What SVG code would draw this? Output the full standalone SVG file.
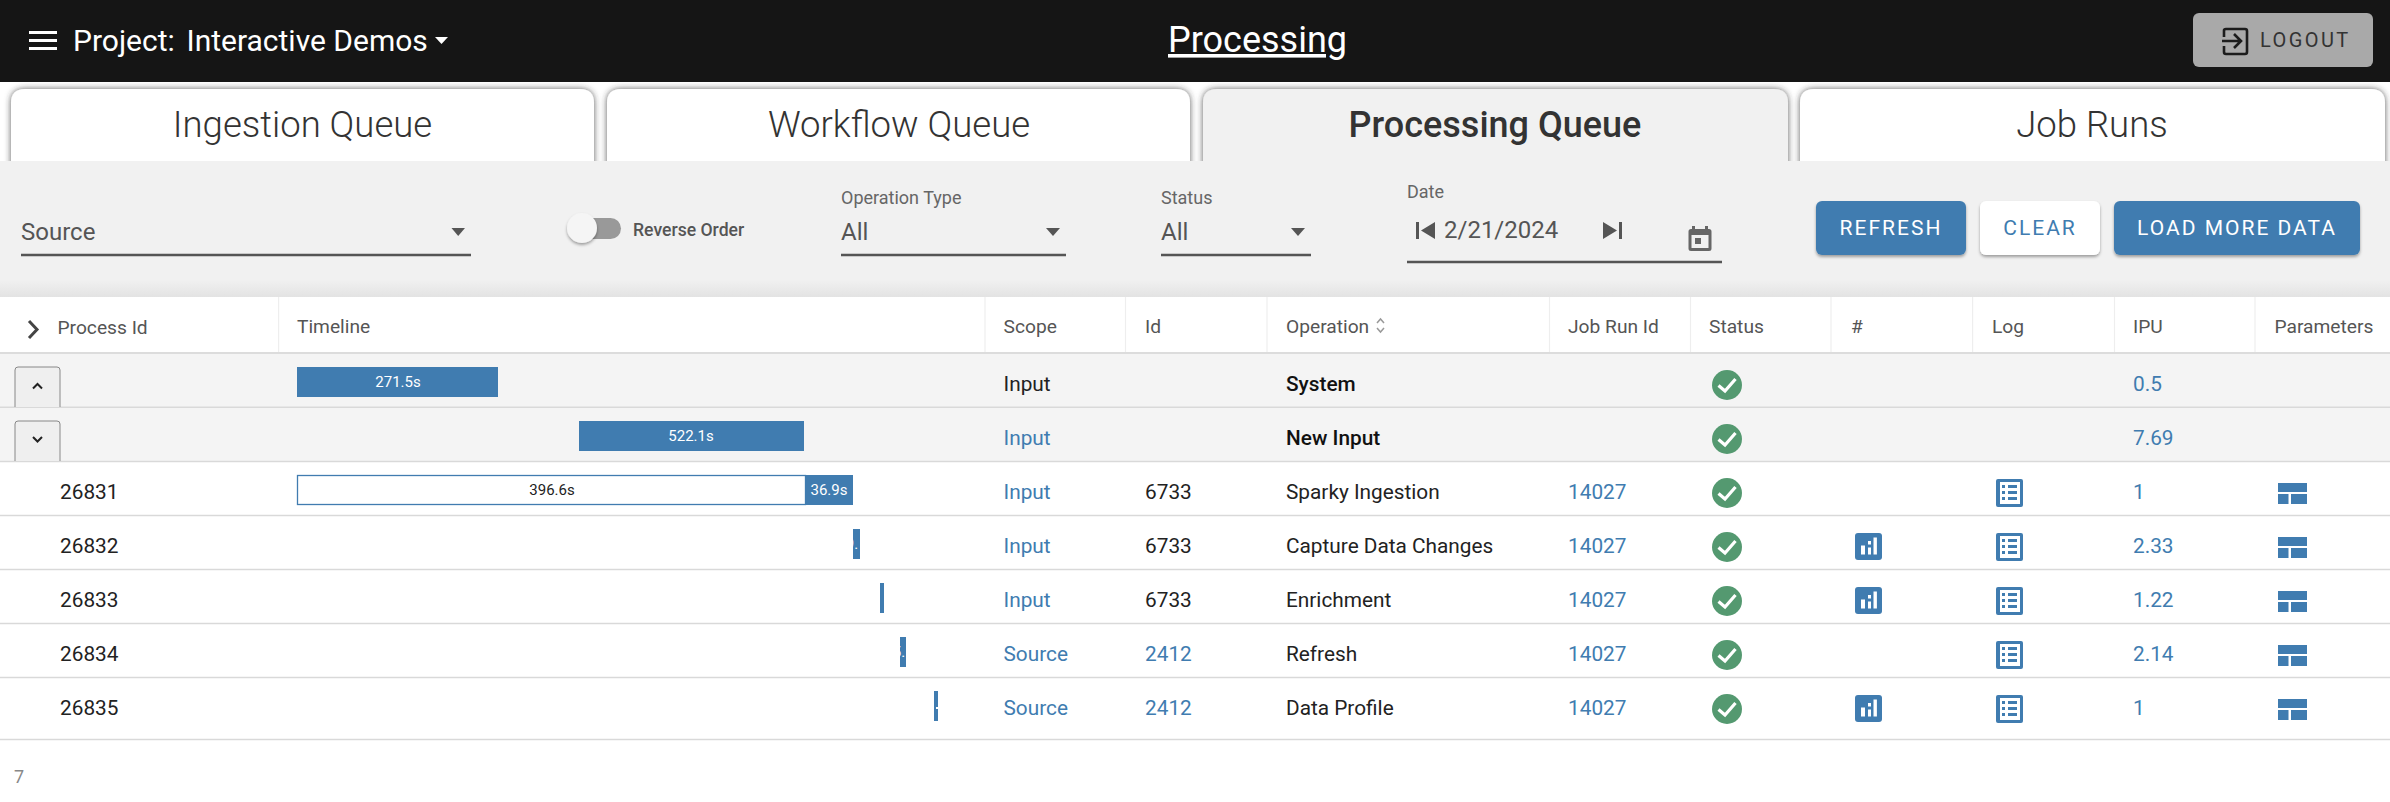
<svg xmlns="http://www.w3.org/2000/svg" xmlns:xlink="http://www.w3.org/1999/xlink" width="2390" height="802" viewBox="0 0 2390 802">
<style>
text{font-family:Roboto,"Liberation Sans",sans-serif}
.tab{font-size:36.5px;fill:#333;text-anchor:middle;font-weight:300}
.tabr{fill:#fff;filter:url(#ts)}
.lbl{font-size:18px;fill:#666}
.val{font-size:24px;fill:#555}
.ul{stroke:#555;stroke-width:2.5;fill:none}
.car{fill:#555}
.btn{filter:url(#bs)}
.bt{font-size:21px;letter-spacing:2px;text-anchor:middle}
.hd{font-size:19.2px;fill:#555}
.sep{stroke:#eee;stroke-width:1.2}
.rl{stroke:#d9d9d9;stroke-width:1.6}
.c{font-size:20.8px;fill:#222}
.l{font-size:20.8px;fill:#407cb0}
.b{font-size:20.8px;fill:#111;font-weight:500}
.blue{fill:#407cb0}
.bar{font-size:15px;fill:#fff;text-anchor:middle}
.xb{fill:#efefef;stroke:#888;stroke-width:1}
.chev{fill:none;stroke:#222;stroke-width:2}
</style>
<defs>
<filter id="ts" x="-5%" y="-20%" width="110%" height="140%"><feDropShadow dx="0" dy="0" stdDeviation="3" flood-color="#333" flood-opacity="0.8"/></filter>
<filter id="bs" x="-10%" y="-20%" width="120%" height="150%"><feDropShadow dx="0" dy="2" stdDeviation="1.5" flood-color="#000" flood-opacity="0.35"/></filter>
<linearGradient id="pg" x1="0" y1="0" x2="0" y2="1"><stop offset="0" stop-color="#f1f1f1"/><stop offset="0.87" stop-color="#f1f1f1"/><stop offset="1" stop-color="#e3e3e3"/></linearGradient>
<g id="ok"><circle r="15" fill="#549970"/><path d="M-8.500 0.500L-2 6L8.500 -6" fill="none" stroke="#fff" stroke-width="3.200"/></g>
<g id="log"><rect x="-13.500" y="-14" width="27" height="28" rx="2" class="blue"/><rect x="-9.500" y="-11" width="20" height="22" fill="#fff"/><g class="blue"><rect x="-7.500" y="-8" width="3" height="3"/><rect x="-1.500" y="-8" width="9" height="3"/><rect x="-7.500" y="-2" width="3" height="3"/><rect x="-1.500" y="-2" width="9" height="3"/><rect x="-7.500" y="4" width="3" height="3"/><rect x="-1.500" y="4" width="9" height="3"/></g></g>
<g id="chart"><rect x="-13.500" y="-13.500" width="27" height="27" rx="3" class="blue"/><g fill="#fff"><rect x="-7.500" y="-1" width="4" height="9"/><rect x="-0.500" y="-5.500" width="3" height="3.500"/><rect x="-0.500" y="1" width="3" height="7"/><rect x="5" y="-9" width="3.400" height="17"/></g></g>
<g id="par" class="blue"><rect x="0" y="0" width="29" height="9"/><rect x="0" y="11" width="10.500" height="10"/><rect x="13" y="11" width="16" height="10"/></g>
<clipPath id="c4"><rect x="853" y="529" width="7" height="30"/></clipPath>
<clipPath id="c6"><rect x="900" y="637" width="6" height="30"/></clipPath>
</defs>
<rect width="2390" height="802" fill="#fff"/>

<g id="tabs">
<path class="tabr" d="M11 170V103Q11 89 25 89H580Q594 89 594 103V170Z"/>
<path class="tabr" d="M607 170V103Q607 89 621 89H1176Q1190 89 1190 103V170Z"/>
<path class="tabr" style="fill:#f1f1f1" d="M1203 170V103Q1203 89 1217 89H1774Q1788 89 1788 103V170Z"/>
<path class="tabr" d="M1800 170V103Q1800 89 1814 89H2371Q2385 89 2385 103V170Z"/>
</g>
<g id="header">
<rect width="2390" height="82" fill="#151515"/>
<g fill="#fff"><rect x="29" y="31" width="28" height="3"/><rect x="29" y="39" width="28" height="3"/><rect x="29" y="47" width="28" height="3"/></g>
<text x="73" y="51" font-size="30" fill="#fff">Project:</text>
<text x="186.500" y="51" font-size="30" fill="#fff">Interactive Demos</text>
<path d="M435 37H448L441.500 44Z" fill="#fff"/>
<text x="1168" y="52" font-size="36" fill="#fff" text-decoration="underline">Processing</text>
<g id="logout"><rect x="2193" y="13" width="180" height="54" rx="6" fill="#a9a9a9"/>
<path d="M2224 37V30.500Q2224 29 2226 29H2245Q2247 29 2247 31V52Q2247 54 2245 54H2226Q2224 54 2224 52V46M2222 41H2241M2234 34L2241 41L2234 48" fill="none" stroke="#1c1c1c" stroke-width="2.600"/>
<text x="2260" y="47" font-size="20" letter-spacing="2.400" fill="#333">LOGOUT</text></g>
</g>
<g id="tab-labels">
<text class="tab" x="302.500" y="137">Ingestion Queue</text>
<text class="tab" x="899" y="137">Workflow Queue</text>
<text class="tab" x="1495" y="137" style="font-weight:500;font-size:36px">Processing Queue</text>
<text class="tab" x="2092" y="137">Job Runs</text>
</g>

<g id="filters">
<rect y="161" width="2390" height="136" fill="url(#pg)"/>
<text x="21" y="240" class="val">Source</text>
<path class="ul" d="M21 255H471"/><path class="car" d="M451.500 228H465L458.200 236Z"/>
<g id="toggle"><rect x="575" y="218" width="46" height="21" rx="10.500" fill="#999"/><circle cx="582" cy="228" r="15" fill="#f5f5f5" filter="url(#bs)"/></g>
<text x="633" y="236" font-size="17.600" font-weight="500" fill="#555">Reverse Order</text>
<text x="841" y="204" class="lbl">Operation Type</text><text x="841" y="240" class="val">All</text>
<path class="ul" d="M841 255H1066"/><path class="car" d="M1046 228H1060L1053 236Z"/>
<text x="1161" y="204" class="lbl">Status</text><text x="1161" y="240" class="val">All</text>
<path class="ul" d="M1161 255H1311"/><path class="car" d="M1291 228H1305L1298 236Z"/>
<text x="1407" y="198" class="lbl">Date</text>
<path class="car" d="M1416 222H1419V239H1416ZM1435 222V239L1421 230.500Z"/>
<text x="1444" y="238" class="val">2/21/2024</text>
<path class="car" d="M1603 222V239L1617 230.500ZM1619 222H1622V239H1619Z"/>
<path class="ul" d="M1407 262H1722"/>
<path fill="#666" fill-rule="evenodd" d="M1692 226H1695V229H1705V226H1708V229H1709Q1711.500 229 1711.500 231.500V248.500Q1711.500 251 1709 251H1691Q1688.500 251 1688.500 248.500V231.500Q1688.500 229 1691 229H1692ZM1691.500 235V248H1708.500V235ZM1695 238H1701V244H1695Z"/>
<rect class="btn blue" x="1816" y="201" width="150" height="54" rx="6"/><text class="bt" x="1891" y="235" fill="#fff">REFRESH</text>
<rect class="btn" x="1980" y="201" width="120" height="54" rx="6" fill="#fff"/><text class="bt" x="2040" y="235" fill="#407cb0">CLEAR</text>
<rect class="btn blue" x="2114" y="201" width="246" height="54" rx="6"/><text class="bt" x="2237" y="235" fill="#fff">LOAD MORE DATA</text>
</g>

<g id="table-header">
<g class="sep"><path d="M278.600 297V352M985 297V352M1125.500 297V352M1267 297V352M1549.500 297V352M1690.500 297V352M1831 297V352M1972.600 297V352M2114.500 297V352M2255 297V352"/></g>
<path d="M29 321L37 329.500L29 338" fill="none" stroke="#444" stroke-width="3"/>
<text class="hd" x="57.500" y="334">Process Id</text>
<text class="hd" x="297" y="333">Timeline</text>
<text class="hd" x="1003.500" y="333">Scope</text>
<text class="hd" x="1145" y="333">Id</text>
<text class="hd" x="1286" y="333">Operation</text>
<path d="M1377 323L1380.500 319L1384 323M1377 328L1380.500 332L1384 328" fill="none" stroke="#999" stroke-width="1.500"/>
<text class="hd" x="1568" y="333">Job Run Id</text>
<text class="hd" x="1709" y="333">Status</text>
<text class="hd" x="1851" y="333">#</text>
<text class="hd" x="1992" y="333">Log</text>
<text class="hd" x="2133" y="333">IPU</text>
<text class="hd" x="2274.500" y="333">Parameters</text>
<rect y="352" width="2390" height="2" fill="#dcdcdc"/>
</g>

<g id="rows">
<rect y="354" width="2390" height="107" fill="#f4f4f4"/>
<g class="rl"><path d="M0 407.300H2390M0 461.500H2390M0 515.500H2390M0 569.500H2390M0 623.500H2390M0 677.500H2390M0 739.500H2390"/></g>

<g id="row-system">
<path class="xb" d="M15 407V370Q15 367 18 367H57Q60 367 60 370V407"/>
<path class="chev" d="M33 388.500L37.500 384L42 388.500"/>
<rect class="blue" x="297" y="367" width="201" height="30"/><text class="bar" x="398" y="387">271.5s</text>
<text class="c" x="1003.500" y="391">Input</text><text class="b" x="1286" y="391">System</text>
<use xlink:href="#ok" x="1727" y="385"/><text class="l" x="2133" y="391">0.5</text>
</g>
<g id="row-new-input">
<path class="xb" d="M15 461V424Q15 421 18 421H57Q60 421 60 424V461"/>
<path class="chev" d="M33 437L37.500 441.500L42 437"/>
<rect class="blue" x="579" y="421" width="225" height="30"/><text class="bar" x="691" y="441">522.1s</text>
<text class="l" x="1003.500" y="445">Input</text><text class="b" x="1286" y="445">New Input</text>
<use xlink:href="#ok" x="1727" y="439"/><text class="l" x="2133" y="445">7.69</text>
</g>
<g id="row-26831">
<text class="c" x="60" y="499">26831</text>
<rect x="297.500" y="475.500" width="508" height="29" fill="#fff" stroke="#407cb0" stroke-width="1.300"/><text class="bar" style="fill:#222" x="552" y="495">396.6s</text>
<rect class="blue" x="805" y="475" width="48" height="30"/><text class="bar" x="829" y="495">36.9s</text>
<text class="l" x="1003.500" y="499">Input</text><text class="c" x="1145" y="499">6733</text><text class="c" x="1286" y="499">Sparky Ingestion</text><text class="l" x="1568" y="499">14027</text>
<use xlink:href="#ok" x="1727" y="493"/><use xlink:href="#log" x="2009.500" y="493"/><text class="l" x="2133" y="499">1</text><use xlink:href="#par" x="2278" y="483"/>
</g>
<g id="row-26832">
<text class="c" x="60" y="553">26832</text>
<rect class="blue" x="853" y="529" width="7" height="30"/><g clip-path="url(#c4)"><text class="bar" x="852" y="549">9.</text></g>
<text class="l" x="1003.500" y="553">Input</text><text class="c" x="1145" y="553">6733</text><text class="c" x="1286" y="553">Capture Data Changes</text><text class="l" x="1568" y="553">14027</text>
<use xlink:href="#ok" x="1727" y="547"/><use xlink:href="#chart" x="1868.500" y="546.500"/><use xlink:href="#log" x="2009.500" y="547"/><text class="l" x="2133" y="553">2.33</text><use xlink:href="#par" x="2278" y="537"/>
</g>
<g id="row-26833">
<text class="c" x="60" y="607">26833</text>
<rect class="blue" x="880" y="583" width="4" height="30"/>
<text class="l" x="1003.500" y="607">Input</text><text class="c" x="1145" y="607">6733</text><text class="c" x="1286" y="607">Enrichment</text><text class="l" x="1568" y="607">14027</text>
<use xlink:href="#ok" x="1727" y="601"/><use xlink:href="#chart" x="1868.500" y="600.500"/><use xlink:href="#log" x="2009.500" y="601"/><text class="l" x="2133" y="607">1.22</text><use xlink:href="#par" x="2278" y="591"/>
</g>
<g id="row-26834">
<text class="c" x="60" y="661">26834</text>
<rect class="blue" x="900" y="637" width="6" height="30"/><g clip-path="url(#c6)"><text class="bar" x="899" y="657">5.</text></g>
<text class="l" x="1003.500" y="661">Source</text><text class="l" x="1145" y="661">2412</text><text class="c" x="1286" y="661">Refresh</text><text class="l" x="1568" y="661">14027</text>
<use xlink:href="#ok" x="1727" y="655"/><use xlink:href="#log" x="2009.500" y="655"/><text class="l" x="2133" y="661">2.14</text><use xlink:href="#par" x="2278" y="645"/>
</g>
<g id="row-26835">
<text class="c" x="60" y="715">26835</text>
<rect class="blue" x="934" y="691" width="4" height="30"/><rect x="936" y="707" width="2" height="2" fill="#fff"/>
<text class="l" x="1003.500" y="715">Source</text><text class="l" x="1145" y="715">2412</text><text class="c" x="1286" y="715">Data Profile</text><text class="l" x="1568" y="715">14027</text>
<use xlink:href="#ok" x="1727" y="709"/><use xlink:href="#chart" x="1868.500" y="708.500"/><use xlink:href="#log" x="2009.500" y="709"/><text class="l" x="2133" y="715">1</text><use xlink:href="#par" x="2278" y="699"/>
</g>
</g>
<text id="count" x="14" y="783" font-size="18" fill="#888">7</text>
</svg>
